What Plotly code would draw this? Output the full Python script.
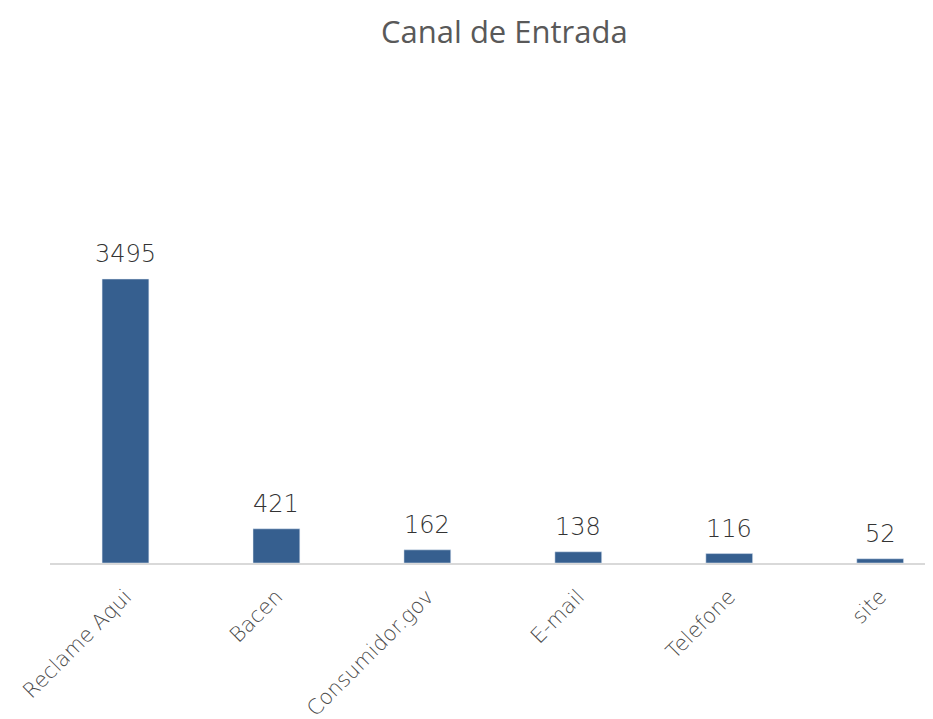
import plotly.graph_objects as go

categories = ["Reclame Aqui", "Bacen", "Consumidor.gov", "E-mail", "Telefone", "site"]
values = [3495, 421, 162, 138, 116, 52]

fig = go.Figure(go.Bar(
    x=categories, y=values,
    marker=dict(color="#365f8f"),
    width=0.31,
    hoverinfo="x+y",
))

for c, v in zip(categories, values):
    fig.add_annotation(x=c, y=v, text=str(v), showarrow=False, yanchor="bottom",
                       yshift=9, font=dict(family="DejaVu Sans", size=24, color="#333333", weight=200))

fig.update_layout(
    width=933, height=719,
    paper_bgcolor="white", plot_bgcolor="white",
    margin=dict(l=42, r=8, t=230, b=164, autoexpand=False),
    title=dict(text="Canal de Entrada", x=0.532, xanchor="center", y=0.967, yanchor="middle",
               font=dict(family="Open Sans", size=31, color="#595959")),
    showlegend=False,
)
fig.update_xaxes(range=[-0.5, 5.35], showline=True, linecolor="#d9d9d9", linewidth=2,
                 tickangle=-45, ticks="", ticklabelstandoff=11, automargin=False,
                 tickfont=dict(family="DejaVu Sans", size=21, color="#4a4a4a", weight=200))
fig.update_yaxes(range=[0, 4000], visible=False, showgrid=False, automargin=False)

fig.write_html("out.html")
